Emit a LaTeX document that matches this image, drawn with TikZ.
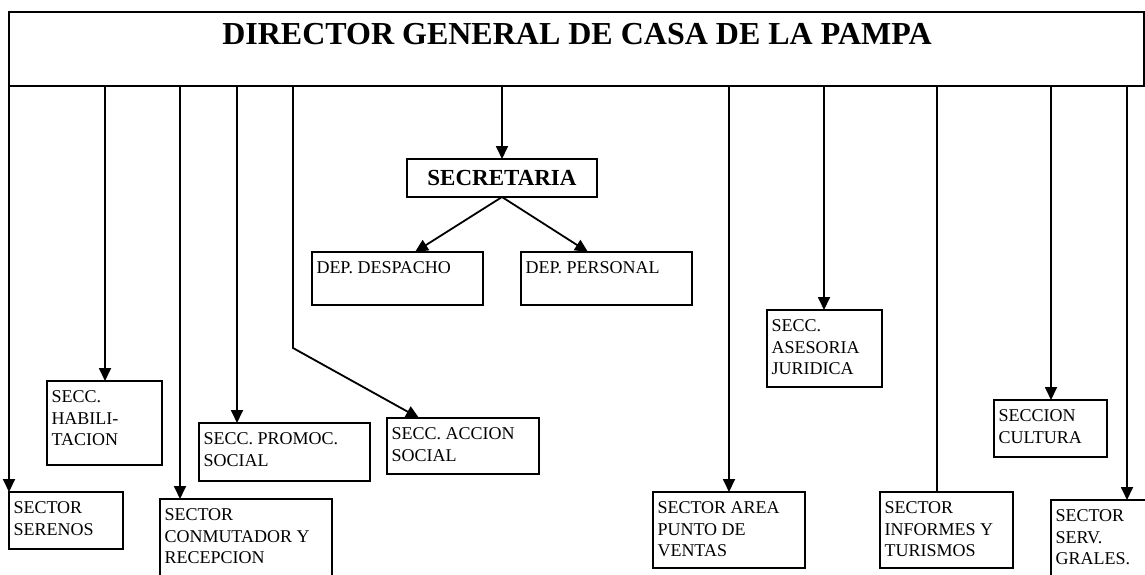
\documentclass[tikz,border=0pt]{standalone}
\usepackage{fontspec}
\setmainfont{Liberation Serif}
\usetikzlibrary{arrows.meta}
\newcommand{\cj}[3]{\parbox[c][#2pt][t]{\dimexpr#1pt-9pt\relax}{\raggedright\rule{0pt}{21.5pt}#3}}
\begin{document}
\begin{tikzpicture}[x=1pt,y=-1pt,
  box/.style={draw, line width=2.2pt, fill=white, inner xsep=4.5pt, inner ysep=0pt, outer sep=0pt, anchor=north west, font=\fontsize{18}{21.5}\selectfont},
  conn/.style={line width=1.8pt, -{Triangle[length=13pt,width=12pt]}},
  plain/.style={line width=1.8pt}]
\clip (0,0) rectangle (1145,575);
% top box
\node[draw, line width=2.2pt, minimum width=1135pt, minimum height=74pt, anchor=north west, inner sep=0pt, outer sep=0pt] (dir) at (9,12) {};
\node[font=\bfseries\fontsize{32}{38}\selectfont, anchor=base] (tit) at (577,45) {DIRECTOR GENERAL DE CASA DE LA PAMPA};
% secretaria
\node[draw, line width=2.2pt, minimum width=190pt, minimum height=38pt, anchor=north west, inner sep=0pt, outer sep=0pt, font=\bfseries\fontsize{23}{27}\selectfont] (sec) at (407,159) {SECRETARIA};
\node[box] (desp) at (312,252) {\cj{171}{53}{DEP. DESPACHO}};
\node[box] (pers) at (521,252) {\cj{171}{53}{DEP. PERSONAL}};
% boxes
\node[box] (ser) at (9,492) {\cj{114}{57}{SECTOR\\SERENOS}};
\node[box] (hab) at (47,381) {\cj{115}{84}{SECC.\\HABILI-\\TACION}};
\node[box] (conm) at (160,499) {\cj{172}{90}{SECTOR\\CONMUTADOR Y\\RECEPCION}};
\node[box] (prom) at (199,423) {\cj{171}{58}{SECC. PROMOC.\\SOCIAL}};
\node[box] (acc) at (387,418) {\cj{152}{56}{SECC. ACCION\\SOCIAL}};
\node[box] (vent) at (653,492) {\cj{152}{76}{SECTOR AREA\\PUNTO DE\\VENTAS}};
\node[box] (ases) at (767,310) {\cj{115}{77}{SECC.\\ASESORIA\\JURIDICA}};
\node[box] (inf) at (880,492) {\cj{133}{76}{SECTOR\\INFORMES Y\\TURISMOS}};
\node[box] (cult) at (994,400) {\cj{113}{57}{SECCION\\CULTURA}};
\node[box] (serv) at (1051,500) {\cj{100}{80}{SECTOR\\SERV.\\GRALES.}};
% connectors
\draw[conn] (9,0 |- dir.south) -- (9,0 |- ser.north);
\draw[conn] (105,0 |- dir.south) -- (105,0 |- hab.north);
\draw[conn] (180,0 |- dir.south) -- (180,0 |- conm.north);
\draw[conn] (237,0 |- dir.south) -- (237,0 |- prom.north);
\draw[conn] (293,0 |- dir.south) -- (293,348) -- (419,0 |- acc.north);
\draw[conn] (sec.north |- dir.south) -- (sec.north);
\draw[conn] (sec.south) -- (415,0 |- desp.north);
\draw[conn] (sec.south) -- (588,0 |- pers.north);
\draw[conn] (729,0 |- dir.south) -- (729,0 |- vent.north);
\draw[conn] (824,0 |- dir.south) -- (824,0 |- ases.north);
\draw[plain] (937,0 |- dir.south) -- (937,0 |- inf.north);
\draw[conn] (1051,0 |- dir.south) -- (1051,0 |- cult.north);
\draw[conn] (1127,0 |- dir.south) -- (1127,0 |- serv.north);
\end{tikzpicture}
\end{document}
